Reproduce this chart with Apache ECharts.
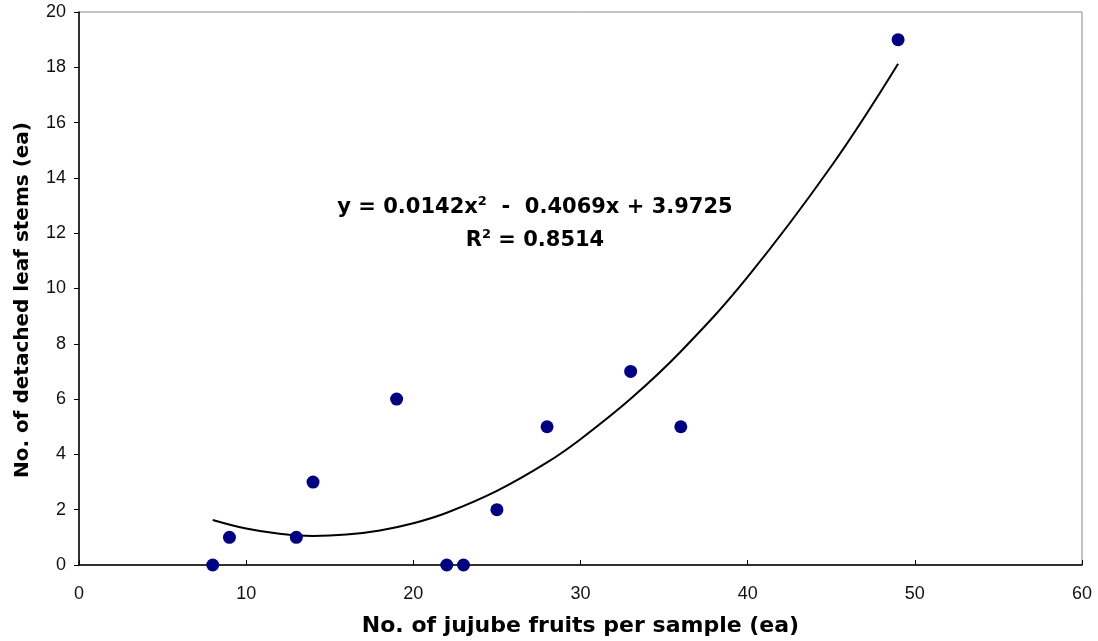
<!DOCTYPE html>
<html><head><meta charset="utf-8">
<script src="https://cdn.jsdelivr.net/npm/echarts@6/dist/echarts.min.js"></script>
<style>html,body{margin:0;padding:0;background:#fff}#c{width:1098px;height:641px}</style>
</head><body><div id="c"></div>
<script>
var xTicks = [0, 10, 20, 30, 40, 50, 60];
var yTicks = [0, 2, 4, 6, 8, 10, 12, 14, 16, 18, 20];
var fruitsX = [8, 9, 13, 14, 19, 22, 23, 25, 28, 33, 36, 49];
var stemsY  = [0, 1, 1, 3, 6, 0, 0, 2, 5, 7, 5, 19];
var trendX = [8, 10, 12, 14, 16, 18, 20, 22, 25, 28, 30, 33, 36, 40, 45, 49];
var trendY = [1.63, 1.32, 1.13, 1.05, 1.10, 1.25, 1.51, 1.89, 2.68, 3.71, 4.55, 6.01, 7.72, 10.42, 14.42, 18.13];
var xTitle = 'No. of jujube fruits per sample (ea)';
var yTitle = 'No. of detached leaf stems (ea)';

var chart = echarts.init(document.getElementById('c'), null, {renderer: 'canvas'});
var lab = {fontFamily: 'Liberation Sans, Arial, sans-serif', fontSize: 18, color: '#111'};
var titleFont = {fontFamily: 'DejaVu Sans, sans-serif', fontSize: 22, fontWeight: 'bold', color: '#000'};
var eqRich = {
  n: {fontFamily: 'DejaVu Sans, sans-serif', fontSize: 21, fontWeight: 'bold', fill: '#000'},
  s: {fontFamily: 'DejaVu Sans, sans-serif', fontSize: 13, fontWeight: 'bold', fill: '#000', verticalAlign: 'top', padding: [0, 0, 13, 0]}
};
chart.setOption({
  animation: false,
  backgroundColor: '#fff',
  grid: {left: 79, right: 16, top: 12, bottom: 76, show: true, borderColor: '#888', borderWidth: 1,
         containLabel: false, outerBoundsMode: 'none'},
  xAxis: {
    type: 'value', min: xTicks[0], max: xTicks[xTicks.length - 1], interval: 10,
    axisLine: {show: true, onZero: false, lineStyle: {color: '#000', width: 1.5}},
    axisTick: {show: true, inside: true, length: 5, lineStyle: {color: '#000'}},
    axisLabel: Object.assign({margin: 20}, lab),
    splitLine: {show: false},
    name: xTitle, nameLocation: 'middle', nameGap: 50,
    nameTextStyle: titleFont
  },
  yAxis: {
    type: 'value', min: yTicks[0], max: yTicks[yTicks.length - 1], interval: 2,
    axisLine: {show: true, onZero: false, lineStyle: {color: '#000', width: 1.5}},
    axisTick: {show: true, inside: false, length: 5, lineStyle: {color: '#000'}},
    axisLabel: Object.assign({margin: 13}, lab),
    splitLine: {show: false}
  },
  graphic: [{
    type: 'text', x: 23, y: 300, rotation: Math.PI / 2,
    style: {
      text: yTitle, align: 'center', verticalAlign: 'middle',
      font: 'bold 20px "DejaVu Sans", sans-serif', fill: '#000'
    }
  }, {
    type: 'text', x: 535, y: 208,
    style: {
      align: 'center', verticalAlign: 'middle', rich: eqRich,
      text: '{n|y = 0.0142x}{s|2}{n|  -  0.4069x + 3.9725}'
    }
  }, {
    type: 'text', x: 535, y: 241,
    style: {
      align: 'center', verticalAlign: 'middle', rich: eqRich,
      text: '{n|R}{s|2}{n| = 0.8514}'
    }
  }],
  series: [{
    type: 'line', data: trendX.map(function (x, i) { return [x, trendY[i]]; }),
    smooth: 0.4, symbol: 'none', lineStyle: {color: '#000', width: 2}, z: 2
  }, {
    type: 'scatter', data: fruitsX.map(function (x, i) { return [x, stemsY[i]]; }),
    symbolSize: 13, itemStyle: {color: '#000080', opacity: 1}, z: 3
  }]
});
</script></body></html>
